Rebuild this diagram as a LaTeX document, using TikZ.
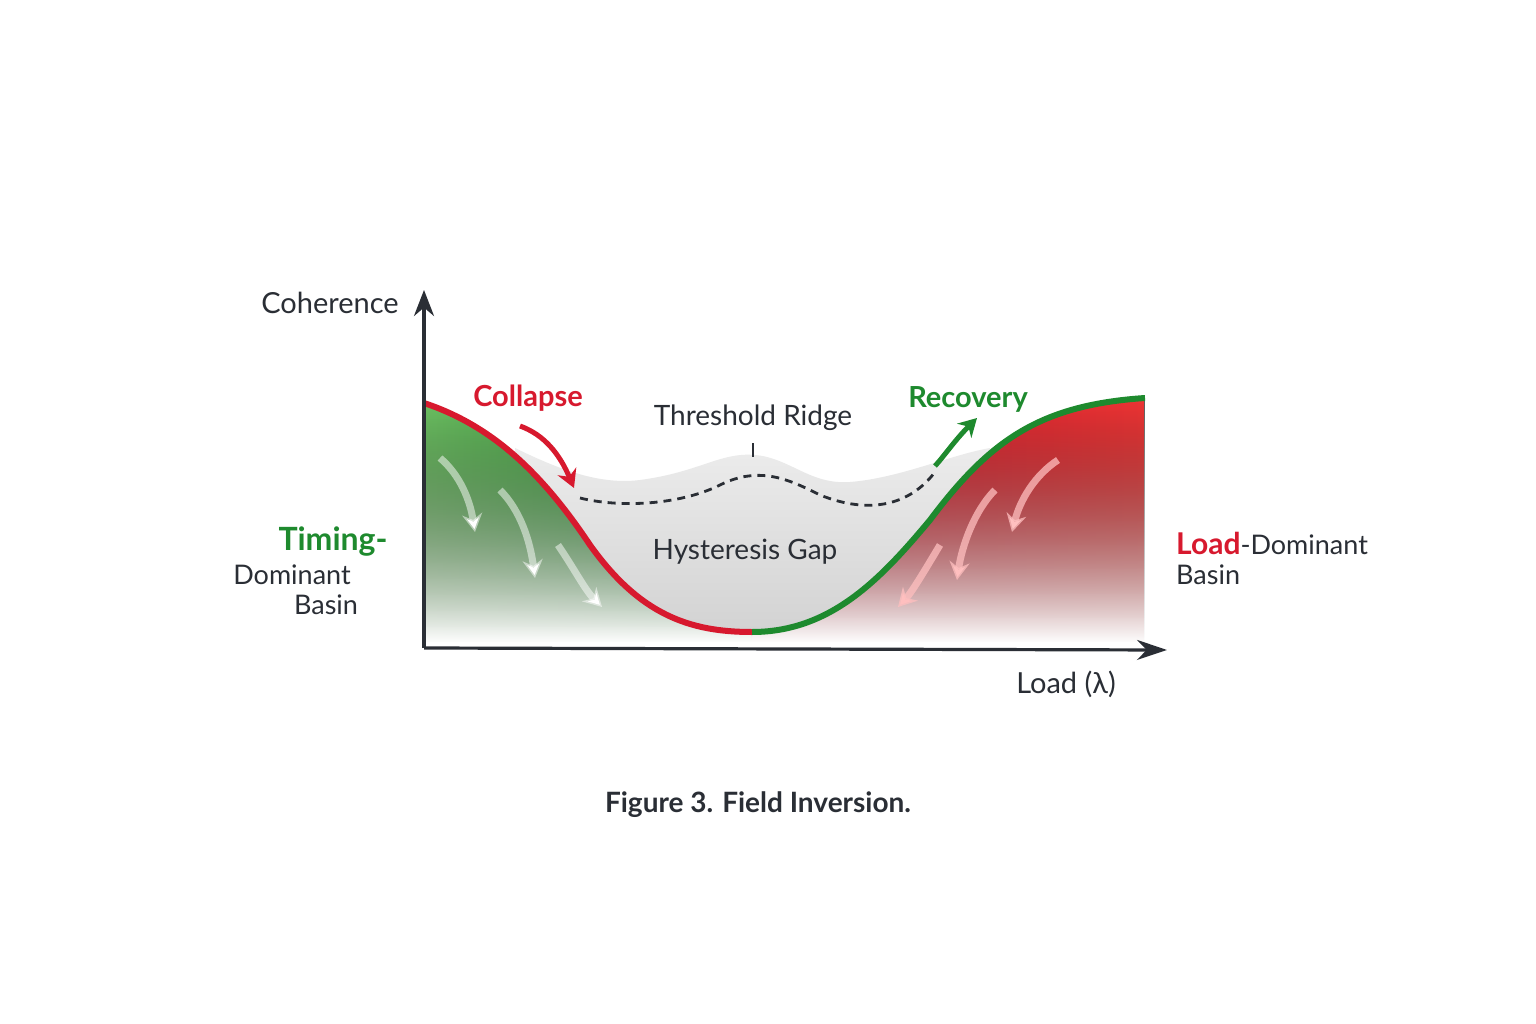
\documentclass[tikz,border=0pt]{standalone}
\usepackage{fontspec}
\setmainfont{Lato}
\usetikzlibrary{arrows.meta,fadings}
\definecolor{axc}{HTML}{2A2E35}
\definecolor{gr}{HTML}{1E8A2E}
\definecolor{lg}{HTML}{6CC062}
\definecolor{dg}{HTML}{2E9A36}
\definecolor{rd}{HTML}{D7192E}
\definecolor{lr}{HTML}{F03535}
\tikzset{
 lbl/.style={text=axc,font=\fontsize{27}{30}\selectfont},
 soft/.style={-{Stealth[length=18pt,width=20pt]},line width=7pt,draw=white,draw opacity=0.5},
 softr/.style={-{Stealth[length=18pt,width=20pt]},line width=7pt,draw=red!25,draw opacity=0.75}
}
\tikzfading[name=softsouth,top color=transparent!0,middle color=transparent!15,bottom color=transparent!100]
\begin{document}
\begin{tikzpicture}[x=1pt,y=-1pt]
\useasboundingbox[fill=white] (0,0) rectangle (1536,1024);
% gray surface
\shade[top color=gray!15,bottom color=gray!35] (515,448) .. controls (560,470) and (600,485) .. (640,480) .. controls (700,472) and (720,452) .. (755,455) .. controls (790,458) and (810,485) .. (850,482) .. controls (900,478) and (950,455) .. (990,448) -- (990,634) -- (515,634) -- cycle;
% left region
\fill[white] (424,403) .. controls (490,425) and (540,470) .. (590,545) .. controls (640,615) and (690,632) .. (752,632) -- (752,642) -- (424,642) -- cycle;
\fill[left color=lg,right color=dg,path fading=softsouth] (424,403) .. controls (490,425) and (540,470) .. (590,545) .. controls (640,615) and (690,632) .. (752,632) -- (752,642) -- (424,642) -- cycle;
% right region
\fill[white] (752,632) .. controls (830,632) and (880,580) .. (930,520) .. controls (990,440) and (1040,405) .. (1145,398) -- (1145,642) -- (752,642) -- cycle;
\fill[left color=rd,right color=lr,path fading=softsouth] (752,632) .. controls (830,632) and (880,580) .. (930,520) .. controls (990,440) and (1040,405) .. (1145,398) -- (1145,642) -- (752,642) -- cycle;
% boundary curves
\draw[rd,line width=6pt] (424,403) .. controls (490,425) and (540,470) .. (590,545) .. controls (640,615) and (690,632) .. (752,632);
\draw[gr,line width=6pt] (752,632) .. controls (830,632) and (880,580) .. (930,520) .. controls (990,440) and (1040,405) .. (1145,398);
% dashed ridge line
\draw[axc,line width=2.8pt,dash pattern=on 8pt off 6pt] (580,498) .. controls (620,508) and (680,505) .. (720,485) .. controls (760,465) and (790,480) .. (820,495) .. controls (870,515) and (910,505) .. (935,472);
% soft arrows
\draw[soft] (440,458) .. controls (460,475) and (470,500) .. (475,532);
\draw[soft] (500,490) .. controls (520,510) and (530,540) .. (535,578);
\draw[soft] (558,545) .. controls (575,570) and (585,590) .. (602,607);
\draw[softr] (1058,460) .. controls (1035,475) and (1020,500) .. (1012,532);
\draw[softr] (995,490) .. controls (975,510) and (962,545) .. (957,580);
\draw[softr] (940,545) .. controls (925,570) and (912,592) .. (898,607);
% axes
\coordinate (o) at (424,648);
\coordinate (yt) at (424,290);
\coordinate (xt) at (1167,650);
\draw[axc,line width=3.2pt,-{Stealth[length=26pt,width=20pt]}] (o) -- (yt);
\draw[axc,line width=3.2pt,-{Stealth[length=30pt,width=20pt]}] (o) -- (xt);
% labels
\node[lbl,font=\fontsize{29}{32}\selectfont] (coh) at (330,303) {Coherence};
\node[lbl,font=\fontsize{29}{32}\selectfont] (load) at (1066,684) {Load (λ)};
\node[lbl,font=\fontsize{28}{32}\selectfont\bfseries] (cap) at (758,805) {Figure 3. Field Inversion.};
\node[lbl,font=\fontsize{28}{32}\selectfont] (ridge) at (753,418) {Threshold Ridge};
\coordinate (tk1) at (753,443); \coordinate (tk2) at (753,457);
\draw[axc,line width=1.8pt] (tk1) -- (tk2);
\node[lbl,font=\fontsize{28}{32}\selectfont] (gap) at (745,552) {Hysteresis Gap};
\node[text=rd,font=\fontsize{29}{32}\selectfont\bfseries] (col) at (528,398) {Collapse};
\coordinate (c1) at (520,426); \coordinate (c2) at (574,488);
\draw[rd,line width=5pt,-{Stealth[length=18pt,width=20pt]}] (c1) .. controls (545,435) and (560,455) .. (c2);
\node[text=gr,font=\fontsize{29}{32}\selectfont\bfseries] (rec) at (968,399) {Recovery};
\coordinate (r1) at (935,466); \coordinate (r2) at (977,418);
\draw[gr,line width=5pt,-{Stealth[length=18pt,width=20pt]}] (r1) .. controls (945,455) and (955,440) .. (r2);
\node[text=gr,font=\fontsize{32}{36}\selectfont\bfseries] (tim) at (333,542) {Timing-};
\node[lbl] (dom1) at (292,575) {Dominant};
\node[lbl] (bas1) at (326,605) {Basin};
\node[anchor=west,lbl,inner sep=0pt] (ld) at (1176,543) {\textcolor{rd}{\fontsize{30}{34}\selectfont\bfseries Load}-Dominant};
\node[anchor=west,lbl,inner sep=0pt] (bas2) at (1176,575) {Basin};
\end{tikzpicture}
\end{document}
